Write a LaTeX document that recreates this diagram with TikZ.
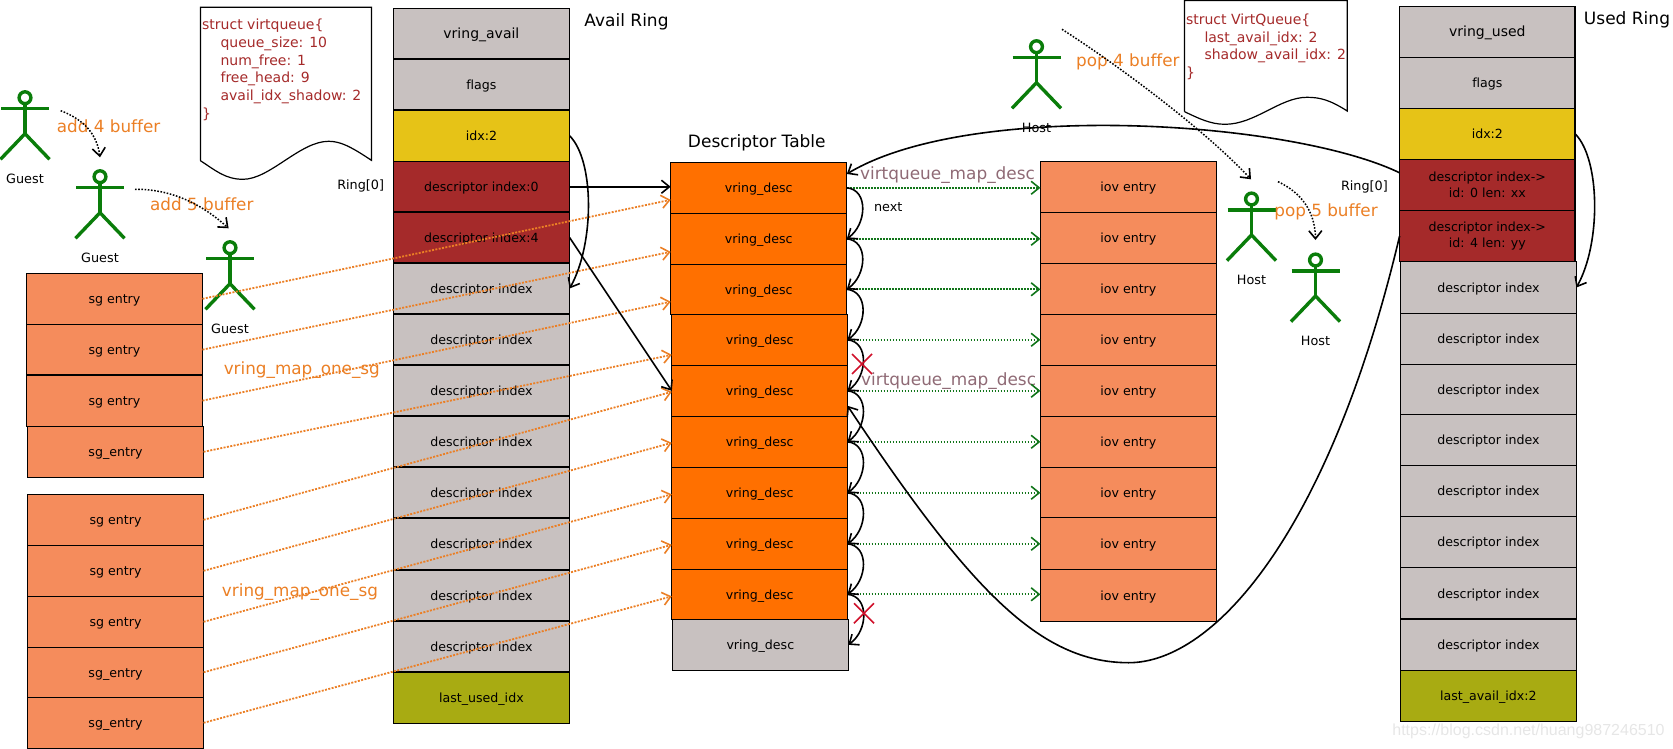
\documentclass[tikz,border=0pt]{standalone}
\usepackage{fontspec}
\setmainfont[Ligatures=NoCommon]{DejaVu Sans}
\newfontfamily\wmfont{Liberation Sans}
\usetikzlibrary{arrows.meta}
\definecolor{cgrey}{HTML}{C8C1C0}
\definecolor{cyellow}{HTML}{E6C317}
\definecolor{cbrown}{HTML}{A52A2A}
\definecolor{colive}{HTML}{A8AB12}
\definecolor{corange}{HTML}{FF7000}
\definecolor{csalmon}{HTML}{F58C5C}
\definecolor{cfig}{HTML}{0A7D0A}
\definecolor{clabel}{HTML}{EB7F25}
\definecolor{cmauve}{HTML}{8F6A75}
\definecolor{cgreen}{HTML}{11751A}
\definecolor{cred}{HTML}{D0102A}
\definecolor{cmark}{HTML}{E6E6E6}
\tikzset{
  x=1pt,y=-1pt,
  cellbase/.style={draw=black,line width=1.3pt,inner sep=0pt,outer sep=0pt,font=\fontsize{12.6}{16}\selectfont,align=center},
  cellbox/.style={cellbase,text height=12pt,text depth=2.6pt},
  greycell/.style={cellbox,fill=cgrey},
  yellowcell/.style={cellbox,fill=cyellow},
  browncell/.style={cellbox,fill=cbrown},
  twolinecell/.style={cellbase,fill=cbrown},
  olivecell/.style={cellbox,fill=colive},
  orangecell/.style={cellbox,fill=corange},
  salmoncell/.style={cellbox,fill=csalmon},
  bigcell/.style={font=\fontsize{14}{16}\selectfont},
  smalltext/.style={inner sep=0pt,font=\fontsize{12.8}{15}\selectfont},
  titletext/.style={inner sep=0pt,font=\fontsize{17}{20}\selectfont},
  actionlabel/.style={inner sep=0pt,text=clabel,font=\fontsize{16.8}{20}\selectfont},
  maplabel/.style={inner sep=0pt,text=cmauve,font=\fontsize{16.9}{20}\selectfont},
  codetext/.style={inner sep=0pt,anchor=north west,align=left,text=cbrown,font=\fontsize{14}{17.7}\selectfont},
  docshape/.style={draw=black,line width=1.2pt,fill=white},
  figline/.style={draw=cfig,line width=3.4pt},
  tipv/.style={-{Straight Barb[length=8pt,width=13pt,line width=1.6pt]}},
  blackcurve/.style={draw=black,line width=1.6pt,tipv},
  sgarrow/.style={draw=clabel,line width=1.8pt,dash pattern=on 2pt off 1.4pt,tipv},
  maparrow/.style={draw=cgreen,line width=2.2pt,dash pattern=on 1.8pt off 1.2pt,tipv},
  hoparrow/.style={draw=black,line width=1.5pt,dash pattern=on 1.6pt off 1.6pt,tipv},
  crossmark/.style={draw=cred,line width=1.6pt},
}
\newcommand{\rowcell}[7]{\node[#2,minimum width={(#4-#3)*1pt},minimum height={(#6-#5)*1pt}] (#1) at ({(#3+#4)/2},{(#5+#6)/2}) {#7};}
\newcommand{\stick}[4]{%
  \draw[figline] (#2,#3-11) circle (5.9);
  \draw[figline] (#2,#3-5.2) -- (#2,#3+25);
  \draw[figline] (#2-24,#3) -- (#2+24,#3);
  \draw[figline,line join=round] (#2-24.5,#3+50.6) -- (#2,#3+25) -- (#2+24.5,#3+50.6);
  \node[smalltext] (#1) at (#2,#3+70) {#4};}
\begin{document}
\begin{tikzpicture}
\useasboundingbox (0,0) rectangle (1673,749);

% Documents
\draw[docshape] (200.4,160.7) -- (200.4,7.3) -- (371.4,7.3) -- (371.4,160.3)
  .. controls (350,146) and (340,141.3) .. (328.6,141.3)
  .. controls (300,141.3) and (270,179.3) .. (243,179.3)
  .. controls (225,179.3) and (215,170) .. (200.4,160.7);
\node[codetext] (doca) at (202,19) {struct virtqueue\{\\\hspace*{18.4pt}queue\_size: 10\\\hspace*{18.4pt}num\_free: 1\\\hspace*{18.4pt}free\_head: 9\\\hspace*{18.4pt}avail\_idx\_shadow: 2\\\}};
\draw[docshape] (1184.5,111.7) -- (1184.5,0.5) -- (1347.2,0.5) -- (1347.2,111)
  .. controls (1330,100) and (1320,97.3) .. (1306.9,97.3)
  .. controls (1280,97.3) and (1255,124.3) .. (1225,124.3)
  .. controls (1210,124.3) and (1198,118) .. (1184.5,111.7);
\node[codetext] (docb) at (1185.8,13.5) {struct VirtQueue\{\\\hspace*{18.5pt}last\_avail\_idx: 2\\\hspace*{18.5pt}shadow\_avail\_idx: 2\\\}};

% Avail ring
\rowcell{a1}{greycell,bigcell}{393.2}{569.6}{8.3}{59}{vring\_avail}
\rowcell{a2}{greycell}{393.2}{569.6}{59}{110}{flags}
\rowcell{a3}{yellowcell}{393.2}{569.6}{110}{161.5}{idx:2}
\rowcell{a4}{browncell}{393.2}{569.6}{161.5}{212}{descriptor index:0}
\rowcell{a5}{browncell}{393.2}{569.6}{212}{263}{descriptor index:4}
\rowcell{a6}{greycell}{393.2}{569.6}{263}{314}{descriptor index}
\rowcell{a7}{greycell}{393.2}{569.6}{314}{365}{descriptor index}
\rowcell{a8}{greycell}{393.2}{569.6}{365}{416}{descriptor index}
\rowcell{a9}{greycell}{393.2}{569.6}{416}{467}{descriptor index}
\rowcell{a10}{greycell}{393.2}{569.6}{467}{518}{descriptor index}
\rowcell{a11}{greycell}{393.2}{569.6}{518}{570}{descriptor index}
\rowcell{a12}{greycell}{393.2}{569.6}{570}{621}{descriptor index}
\rowcell{a13}{greycell}{393.2}{569.6}{621}{672}{descriptor index}
\rowcell{a14}{olivecell}{393.2}{569.6}{672}{723.3}{last\_used\_idx}

% Scatter-gather entries
\rowcell{s1}{salmoncell}{26.4}{202.5}{273.3}{324.3}{sg entry}
\rowcell{s2}{salmoncell}{26.4}{202.5}{324.3}{375}{sg entry}
\rowcell{s3}{salmoncell}{26.4}{202.5}{375}{426.3}{sg entry}
\rowcell{s4}{salmoncell}{27.5}{203.6}{426.3}{477.3}{sg\_entry}
\rowcell{s5}{salmoncell}{27.5}{203.6}{494.3}{545.3}{sg entry}
\rowcell{s6}{salmoncell}{27.5}{203.6}{545.3}{596.3}{sg entry}
\rowcell{s7}{salmoncell}{27.5}{203.6}{596.3}{647.3}{sg entry}
\rowcell{s8}{salmoncell}{27.5}{203.6}{647.3}{697.3}{sg\_entry}
\rowcell{s9}{salmoncell}{27.5}{203.6}{697.3}{748.3}{sg\_entry}

% Descriptor table
\rowcell{d1}{orangecell}{670.7}{846.8}{162.3}{213.3}{vring\_desc}
\rowcell{d2}{orangecell}{670.7}{846.8}{213.3}{264.3}{vring\_desc}
\rowcell{d3}{orangecell}{670.7}{846.8}{264.3}{314.3}{vring\_desc}
\rowcell{d4}{orangecell}{671.8}{847.5}{314.3}{365.3}{vring\_desc}
\rowcell{d5}{orangecell}{671.8}{847.5}{365.3}{416.3}{vring\_desc}
\rowcell{d6}{orangecell}{671.8}{847.5}{416.3}{467.3}{vring\_desc}
\rowcell{d7}{orangecell}{671.8}{847.5}{467.3}{518.3}{vring\_desc}
\rowcell{d8}{orangecell}{671.8}{847.5}{518.3}{569.3}{vring\_desc}
\rowcell{d9}{orangecell}{671.8}{847.5}{569.3}{619.3}{vring\_desc}
\rowcell{d10}{greycell}{672.5}{848.2}{619.3}{670.3}{vring\_desc}

% IOV entries
\rowcell{v1}{salmoncell}{1040.4}{1216.3}{161.3}{212.3}{iov entry}
\rowcell{v2}{salmoncell}{1040.4}{1216.3}{212.3}{263.3}{iov entry}
\rowcell{v3}{salmoncell}{1040.4}{1216.3}{263.3}{314.3}{iov entry}
\rowcell{v4}{salmoncell}{1040.4}{1216.3}{314.3}{365.3}{iov entry}
\rowcell{v5}{salmoncell}{1040.4}{1216.3}{365.3}{416.3}{iov entry}
\rowcell{v6}{salmoncell}{1040.4}{1216.3}{416.3}{467.3}{iov entry}
\rowcell{v7}{salmoncell}{1040.4}{1216.3}{467.3}{517.7}{iov entry}
\rowcell{v8}{salmoncell}{1040.4}{1216.3}{517.7}{569.7}{iov entry}
\rowcell{v9}{salmoncell}{1040.4}{1216.3}{569.7}{621.3}{iov entry}

% Used ring
\rowcell{u1}{greycell,bigcell}{1399.6}{1575.1}{6.3}{57.3}{vring\_used}
\rowcell{u2}{greycell}{1399.6}{1575.1}{57.3}{108.3}{flags}
\rowcell{u3}{yellowcell}{1399.6}{1575.1}{108.3}{159.3}{idx:2}
\rowcell{u4}{twolinecell}{1399.6}{1575.1}{159.3}{210.3}{descriptor index->\\id: 0 len: xx}
\rowcell{u5}{twolinecell}{1399.6}{1575.1}{210.3}{261.7}{descriptor index->\\id: 4 len: yy}
\rowcell{u6}{greycell}{1400.4}{1576.4}{261.7}{313.3}{descriptor index}
\rowcell{u7}{greycell}{1400.4}{1576.4}{313.3}{364.3}{descriptor index}
\rowcell{u8}{greycell}{1400.4}{1576.4}{364.3}{414.3}{descriptor index}
\rowcell{u9}{greycell}{1400.4}{1576.4}{414.3}{465.3}{descriptor index}
\rowcell{u10}{greycell}{1400.4}{1576.4}{465.3}{516.3}{descriptor index}
\rowcell{u11}{greycell}{1400.4}{1576.4}{516.3}{567.7}{descriptor index}
\rowcell{u12}{greycell}{1400.4}{1576.4}{567.7}{619}{descriptor index}
\rowcell{u13}{greycell}{1400.4}{1576.4}{619}{670.3}{descriptor index}
\rowcell{u14}{olivecell}{1400.4}{1576.4}{670.3}{721.3}{last\_avail\_idx:2}

% Titles and small labels
\node[titletext] (tavail) at (626.5,22) {Avail Ring};
\node[titletext] (tdesc) at (756.8,142.7) {Descriptor Table};
\node[titletext] (tused) at (1627,20) {Used Ring};
\node[smalltext] (ring1) at (360.7,185.7) {Ring[0]};
\node[smalltext] (ring2) at (1364.4,186.7) {Ring[0]};
\node[smalltext] (nextlab) at (888.2,206.7) {next};

% Figures
\stick{g1}{25}{108.7}{Guest}
\stick{g2}{100}{187.7}{Guest}
\stick{g3}{230}{258.7}{Guest}
\stick{h1}{1036.5}{57.7}{Host}
\stick{h2}{1251.5}{210}{Host}
\stick{h3}{1315.5}{271}{Host}

% Orange labels
\node[actionlabel] (add4) at (108.6,126.7) {add 4 buffer};
\node[actionlabel] (add5) at (201.8,204.7) {add 5 buffer};
\node[actionlabel] (map1) at (301.8,370) {vring\_map\_one\_sg};
\node[actionlabel] (map2) at (300,592.3) {vring\_map\_one\_sg};
\node[actionlabel] (pop4) at (1127.9,62) {pop 4 buffer};
\node[actionlabel] (pop5) at (1326,212) {pop 5 buffer};
\node[maplabel] (vm1) at (947.5,175) {virtqueue\_map\_desc};
\node[maplabel] (vm2) at (948.6,381.5) {virtqueue\_map\_desc};

% Scatter-gather to descriptor arrows
\draw[sgarrow] (s1.east) -- ([yshift=-12pt]d1.west);
\draw[sgarrow] (s2.east) -- ([yshift=-13pt]d2.west);
\draw[sgarrow] (s3.east) -- ([yshift=-12.4pt]d3.west);
\draw[sgarrow] (s4.east) -- ([yshift=-15pt]d4.west);
\draw[sgarrow] (s5.east) -- ([yshift=-1pt]d5.west);
\draw[sgarrow] (s6.east) -- ([yshift=-1pt]d6.west);
\draw[sgarrow] (s7.east) -- ([yshift=-1.5pt]d7.west);
\draw[sgarrow] (s8.east) -- ([yshift=-1pt]d8.west);
\draw[sgarrow] (s9.east) -- ([yshift=-2pt]d9.west);

% Avail ring links
\draw[blackcurve] (a3.east) .. controls +(25,25) and +(25,-45) .. (a6.east);
\draw[blackcurve] (a4.east) -- (a4.east -| d1.west);
\draw[blackcurve] (a5.east) -- (d5.west);

% Descriptor to iov
\draw[maparrow] (d1.east) -- (d1.east -| v1.west);
\draw[maparrow] (d2.east) -- (d2.east -| v2.west);
\draw[maparrow] (d3.east) -- (d3.east -| v3.west);
\draw[maparrow] (d4.east) -- (d4.east -| v4.west);
\draw[maparrow] (d5.east) -- (d5.east -| v5.west);
\draw[maparrow] (d6.east) -- (d6.east -| v6.west);
\draw[maparrow] (d7.east) -- (d7.east -| v7.west);
\draw[maparrow] (d8.east) -- (d8.east -| v8.west);
\draw[maparrow] (d9.east) -- (d9.east -| v9.west);

% next chain
\draw[blackcurve] (d1.east) .. controls +(22,2) and +(20,-14) .. (d2.east);
\draw[blackcurve] (d2.east) .. controls +(22,2) and +(20,-14) .. (d3.east);
\draw[blackcurve] (d3.east) .. controls +(22,2) and +(20,-14) .. (d4.east);
\draw[blackcurve] (d4.east) .. controls +(22,2) and +(20,-14) .. (d5.east);
\draw[blackcurve] (d5.east) .. controls +(22,2) and +(20,-14) .. (d6.east);
\draw[blackcurve] (d6.east) .. controls +(22,2) and +(20,-14) .. (d7.east);
\draw[blackcurve] (d7.east) .. controls +(22,2) and +(20,-14) .. (d8.east);
\draw[blackcurve] (d8.east) .. controls +(22,2) and +(20,-14) .. (d9.east);
\draw[blackcurve] (d9.east) .. controls +(22,2) and +(20,-14) .. (d10.east);

% Used ring links
\draw[blackcurve] (u3.east) .. controls +(25,25) and +(25,-45) .. (u6.east);
\draw[blackcurve] ([yshift=12pt]u4.west) .. controls (1290,120) and (970,100) .. ([yshift=13.8pt]d1.east);
\coordinate (loopbottom) at (1128.7,662.7);
\draw[blackcurve] (u5.west) .. controls (1330,530) and (1215,662.7) .. (loopbottom)
  .. controls (1040,662.7) and (970,590) .. ([yshift=-15pt]d5.east);

% Hops between figures
\coordinate (hopa) at (60.7,110.7);
\coordinate (hopb) at (100,157.3);
\coordinate (hopc) at (135,189.3);
\coordinate (hopd) at (228.6,228.3);
\coordinate (hope) at (1062,29.3);
\coordinate (hopf) at (1251,179.3);
\coordinate (hopg) at (1278,181.7);
\coordinate (hoph) at (1315.5,240);
\draw[hoparrow] (hopa) .. controls (85,120) and (97,135) .. (hopb);
\draw[hoparrow] (hopc) .. controls (175,189) and (205,207) .. (hopd);
\draw[hoparrow] (hope) .. controls (1110,60) and (1200,125) .. (hopf);
\draw[hoparrow] (hopg) .. controls (1300,192) and (1315,210) .. (hoph);

% Red crosses
\coordinate (xa) at (862,364);
\coordinate (xb) at (864,613.3);
\draw[crossmark] ([shift={(-10,-10)}]xa) -- ([shift={(10,10)}]xa);
\draw[crossmark] ([shift={(10,-10)}]xa) -- ([shift={(-10,10)}]xa);
\draw[crossmark] ([shift={(-10,-10)}]xb) -- ([shift={(10,10)}]xb);
\draw[crossmark] ([shift={(10,-10)}]xb) -- ([shift={(-10,10)}]xb);

% Watermark
\node[inner sep=0pt,text=cmark,font=\wmfont\fontsize{16}{18}\selectfont] (wm) at (1528.5,731) {https://blog.csdn.net/huang987246510};
\end{tikzpicture}
\end{document}
